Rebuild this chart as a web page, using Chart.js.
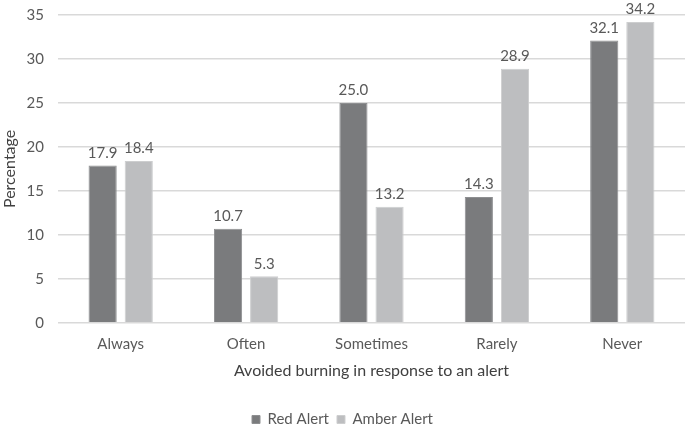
<!DOCTYPE html>
<html>
<head>
<meta charset="utf-8">
<script src="https://cdn.jsdelivr.net/npm/chart.js@4/dist/chart.umd.min.js"></script>
<style>
  html, body { margin: 0; padding: 0; background: #fff; }
  #wrap { width: 685px; height: 429px; }
</style>
</head>
<body>
<div id="wrap"><canvas id="chart"></canvas></div>
<script>
var categories = ['Always', 'Often', 'Sometimes', 'Rarely', 'Never'];
var redAlert = [17.9, 10.7, 25.0, 14.3, 32.1];
var amberAlert = [18.4, 5.3, 13.2, 28.9, 34.2];

var txt = '#595959';
var fontFam = 'Lato, "Open Sans", sans-serif';

// labels above each bar
var valueLabels = {
  id: 'valueLabels',
  afterDatasetsDraw: function (chart) {
    var ctx = chart.ctx;
    ctx.save();
    ctx.font = '15px ' + fontFam;
    ctx.fillStyle = txt;
    ctx.textAlign = 'center';
    ctx.textBaseline = 'bottom';
    chart.data.datasets.forEach(function (ds, i) {
      chart.getDatasetMeta(i).data.forEach(function (bar, j) {
        ctx.fillText(ds.data[j].toFixed(1), bar.x, bar.y - 5);
      });
    });
    ctx.restore();
  }
};

var ctx = document.getElementById('chart').getContext('2d');
var chart = new Chart(ctx, {
  type: 'bar',
  data: {
    labels: categories,
    datasets: [{
      label: 'Red Alert',
      data: redAlert,
      backgroundColor: '#7a7b7d',
      borderColor: '#8e8f91',
      borderWidth: 1
    }, {
      label: 'Amber Alert',
      data: amberAlert,
      backgroundColor: '#bdbec0',
      borderColor: '#cdcecf',
      borderWidth: 1
    }]
  },
  options: {
    responsive: true,
    maintainAspectRatio: false,
    animation: false,
    categoryPercentage: 0.576,
    barPercentage: 0.78,
    layout: { padding: { left: 0, right: 0, top: 15, bottom: -8 } },
    plugins: {
      legend: {
        position: 'bottom',
        labels: {
          boxWidth: 8,
          boxHeight: 8,
          color: txt,
          font: { family: fontFam, size: 15 },
          padding: 8
        }
      },
      tooltip: { enabled: false }
    },
    scales: {
      x: {
        grid: { display: false },
        border: { color: '#d9d9d9' },
        ticks: { color: txt, font: { family: fontFam, size: 15 }, padding: 4 },
        title: {
          display: true,
          text: 'Avoided burning in response to an alert',
          color: '#404040',
          font: { family: fontFam, size: 16 },
          padding: { top: 4, bottom: 24 }
        }
      },
      y: {
        min: 0,
        max: 35,
        ticks: { stepSize: 5, color: txt, font: { family: fontFam, size: 15 }, padding: 14 },
        grid: { color: '#d9d9d9', lineWidth: 1.5, drawTicks: false },
        border: { display: false },
        title: {
          display: true,
          text: 'Percentage',
          color: '#404040',
          font: { family: fontFam, size: 16 },
          padding: { top: 0, bottom: 0 }
        },
        afterFit: function (scale) {
          scale.width = 58;
          scale.paddingTop = 0;
        }
      }
    }
  },
  plugins: [valueLabels]
});
</script>
</body>
</html>
